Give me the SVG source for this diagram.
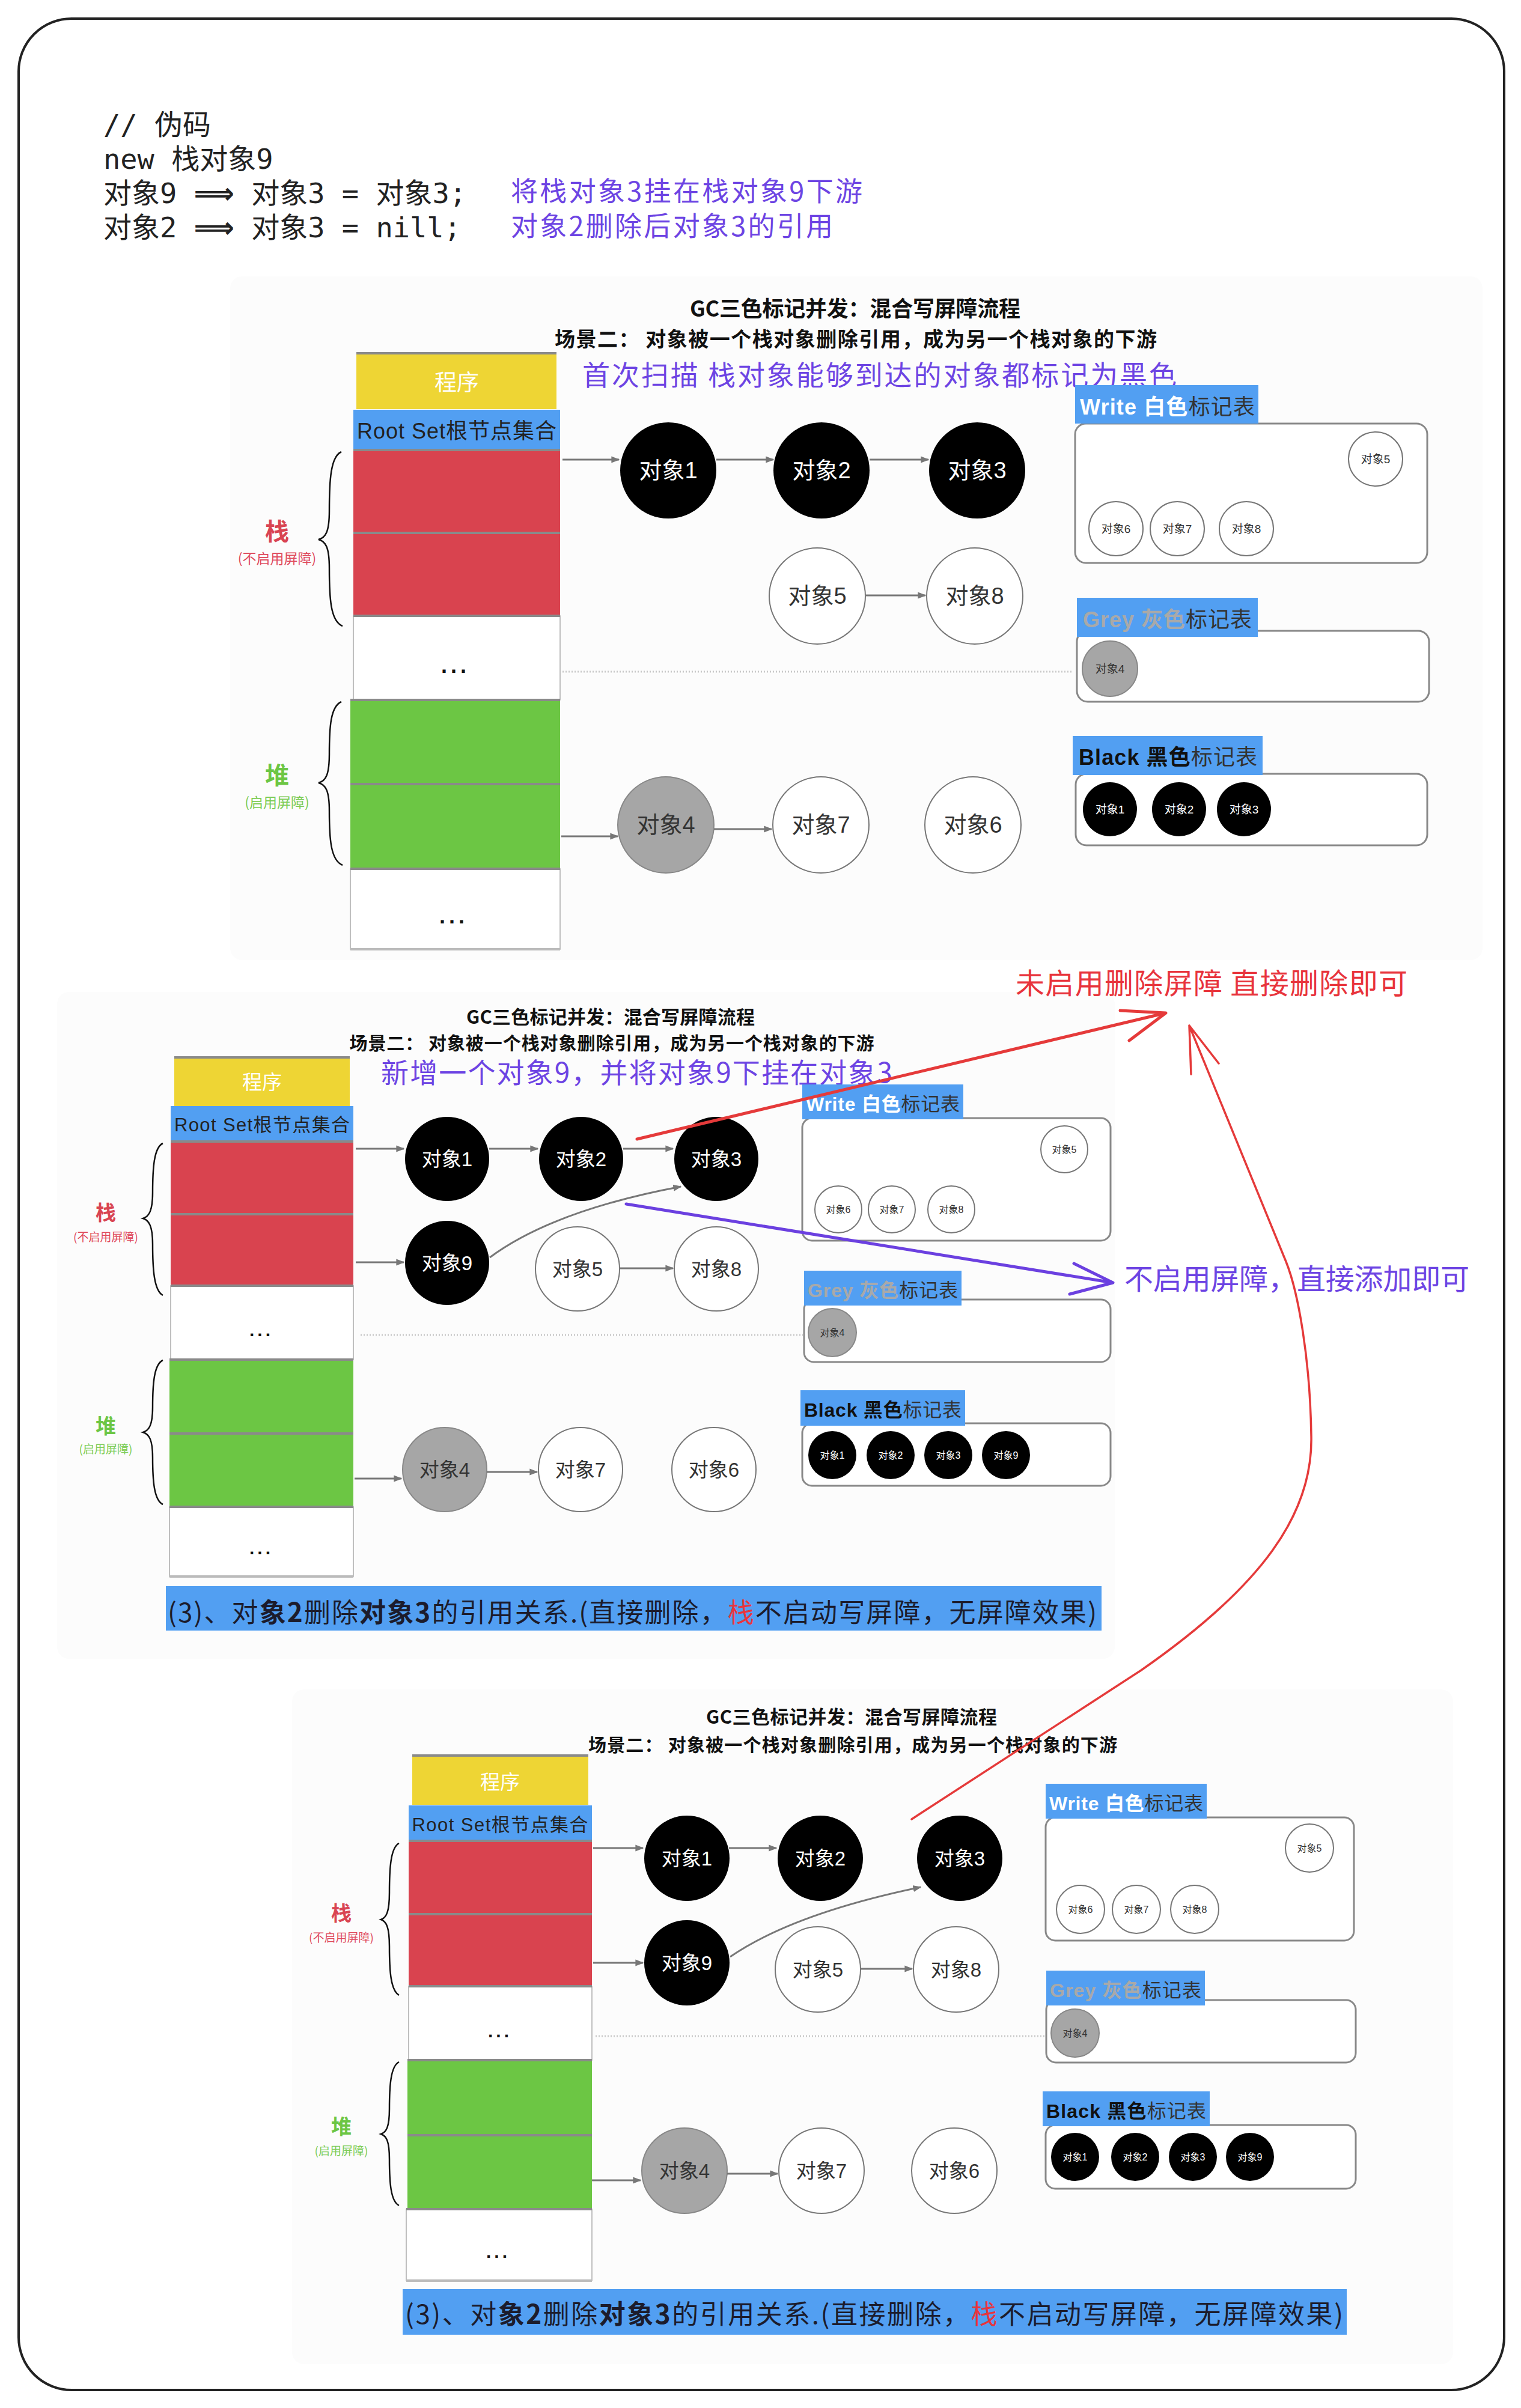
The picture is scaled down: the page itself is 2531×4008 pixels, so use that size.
<svg xmlns="http://www.w3.org/2000/svg" width="2531" height="4008" viewBox="0 0 2531 4008">
<defs>
<style>
.sans{font-family:"Liberation Sans","Noto Sans CJK SC",sans-serif}
.cjk{font-family:"Noto Sans CJK SC",sans-serif}
.mono{font-family:"DejaVu Sans Mono","Noto Sans CJK SC",monospace;font-size:47px;fill:#222}
.arr{font-family:"DejaVu Sans","Noto Sans CJK SC",sans-serif;font-weight:bold}
.purple{fill:#6d44e3}
.sep{stroke:#8a8a8a;stroke-width:4}
.red{fill:#d9434f}
.green{fill:#6cc644}
.yellow{fill:#eed534}
.blue{fill:#529ff2}
.white{fill:#fff;stroke:#aaa;stroke-width:1.5}
.ob{fill:#000}
.ow{fill:#fff;stroke:#777;stroke-width:2}
.og{fill:#a6a6a6;stroke:#888;stroke-width:2}
.tw{fill:#fff;text-anchor:middle}
.td{fill:#333;text-anchor:middle}
.tbox{fill:#fff;stroke:#888;stroke-width:3}
.edge{stroke:#777;stroke-width:3;fill:none;marker-end:url(#ah)}
.dot{stroke:#c8c8c8;stroke-width:3;stroke-dasharray:2 3;fill:none}
.brace{stroke:#111;stroke-width:2.5;fill:none}
.ann{fill:none;stroke-linecap:round;stroke-linejoin:round}
.title{font-weight:bold;fill:#111;text-anchor:middle}
</style>
<marker id="ah" viewBox="0 0 10 10" refX="9" refY="5" markerWidth="14" markerHeight="14" markerUnits="userSpaceOnUse" orient="auto"><path d="M0,1 L10,5 L0,9 z" fill="#777"/></marker>
</defs>
<rect width="2531" height="4008" fill="#fff"/>
<rect id="frame" x="31" y="31" width="2472" height="3947" rx="88" ry="88" fill="#fff" stroke="#222" stroke-width="4"/>

<!-- faint panel backgrounds -->
<rect x="383" y="460" width="2084" height="1138" rx="20" fill="#fcfcfc"/>
<rect x="95" y="1651" width="1760" height="1110" rx="20" fill="#fcfcfc"/>
<rect x="486" y="2812" width="1932" height="1123" rx="20" fill="#fcfcfc"/>

<!-- code -->
<g id="code">
<text class="mono" x="172" y="224">//  伪码</text>
<text class="mono" x="172" y="281">new 栈对象9</text>
<text class="mono" x="172" y="338">对象9 <tspan class="arr">⟹</tspan> 对象3 = 对象3;</text>
<text class="mono" x="172" y="395">对象2 <tspan class="arr">⟹</tspan> 对象3 = nill;</text>
<text class="cjk purple" x="850" y="335" font-size="45" textLength="585">将栈对象3挂在栈对象9下游</text>
<text class="cjk purple" x="850" y="393" font-size="45" textLength="536">对象2删除后对象3的引用</text>
</g>

<!-- ================= PANEL 1 ================= -->
<g id="p1-title">
<text class="cjk title" x="1423" y="527" font-size="36" textLength="550">GC三色标记并发：混合写屏障流程</text>
<text class="cjk title" x="1424" y="577" font-size="34" textLength="1002">场景二： 对象被一个栈对象删除引用，成为另一个栈对象的下游</text>
</g>
<text id="p1-note" class="cjk purple" x="969" y="641" font-size="46" textLength="989">首次扫描  栈对象能够到达的对象都标记为黑色</text>

<g id="p1-program"><rect class="yellow" x="593" y="587" width="333" height="94"/><line class="sep" x1="593" y1="588" x2="926" y2="588"/><text class="cjk tw" x="760" y="650" font-size="37">程序</text></g>
<g id="p1-rootset"><rect class="blue" x="588" y="682" width="344" height="66"/><text class="sans td" x="760" y="730" font-size="36" textLength="332" style="fill:#222">Root Set根节点集合</text></g>
<g id="p1-stack1"><rect class="red" x="588" y="749" width="344" height="138"/></g>
<g id="p1-stack2"><rect class="red" x="588" y="887" width="344" height="138"/></g>
<g id="p1-stack3"><rect class="white" x="588" y="1025" width="344" height="140"/><text class="sans td" x="758" y="1120" font-size="36" font-weight="bold" letter-spacing="6" style="fill:#111">...</text></g>
<g id="p1-heap1"><rect class="green" x="583" y="1165" width="349" height="140"/></g>
<g id="p1-heap2"><rect class="green" x="583" y="1305" width="349" height="141"/></g>
<g id="p1-heap3"><rect class="white" x="583" y="1446" width="349" height="134"/><text class="sans td" x="755" y="1537" font-size="36" font-weight="bold" letter-spacing="6" style="fill:#111">...</text></g>
<g id="p1-seps"><line class="sep" x1="588" y1="749" x2="932" y2="749"/><line class="sep" x1="588" y1="887" x2="932" y2="887"/><line class="sep" x1="588" y1="1025" x2="932" y2="1025"/><line class="sep" x1="583" y1="1165" x2="932" y2="1165"/><line class="sep" x1="583" y1="1305" x2="932" y2="1305"/><line class="sep" x1="583" y1="1446" x2="932" y2="1446"/><line class="sep" x1="583" y1="1580" x2="932" y2="1580" style="stroke:#bbb"/></g>
<g id="p1-stack-label">
<path class="brace" d="M568,752 C550,760 548,800 548,850 C548,885 542,895 530,898 C542,901 548,911 548,946 C548,996 550,1034 570,1042"/>
<text class="cjk" x="461" y="899" font-size="40" font-weight="bold" fill="#d94452" text-anchor="middle">栈</text>
<text class="cjk" x="461" y="938" font-size="23" fill="#df4a5c" text-anchor="middle">(不启用屏障)</text>
</g>
<g id="p1-heap-label">
<path class="brace" d="M568,1168 C550,1176 548,1210 548,1255 C548,1290 542,1300 530,1303 C542,1306 548,1316 548,1350 C548,1395 550,1432 570,1440"/>
<text class="cjk" x="461" y="1305" font-size="40" font-weight="bold" fill="#6cc644" text-anchor="middle">堆</text>
<text class="cjk" x="461" y="1344" font-size="23" fill="#7ccc55" text-anchor="middle">(启用屏障)</text>
</g>

<g id="p1-obj1"><circle class="ob" cx="1112" cy="783" r="80"/><text class="sans tw" x="1112" y="796" font-size="38">对象1</text></g>
<g id="p1-obj2"><circle class="ob" cx="1367" cy="783" r="80"/><text class="sans tw" x="1367" y="796" font-size="38">对象2</text></g>
<g id="p1-obj3"><circle class="ob" cx="1626" cy="783" r="80"/><text class="sans tw" x="1626" y="796" font-size="38">对象3</text></g>
<g id="p1-obj5"><circle class="ow" cx="1360" cy="992" r="80"/><text class="sans td" x="1360" y="1005" font-size="38">对象5</text></g>
<g id="p1-obj8"><circle class="ow" cx="1622" cy="992" r="80"/><text class="sans td" x="1622" y="1005" font-size="38">对象8</text></g>
<g id="p1-obj4"><circle class="og" cx="1108" cy="1373" r="80"/><text class="sans td" x="1108" y="1386" font-size="38">对象4</text></g>
<g id="p1-obj7"><circle class="ow" cx="1366" cy="1373" r="80"/><text class="sans td" x="1366" y="1386" font-size="38">对象7</text></g>
<g id="p1-obj6"><circle class="ow" cx="1619" cy="1373" r="80"/><text class="sans td" x="1619" y="1386" font-size="38">对象6</text></g>

<g id="p1-white-table">
<rect class="tbox" x="1789" y="705" width="586" height="232" rx="18"/>
<rect class="blue" x="1789" y="641" width="305" height="64"/>
<text class="sans" x="1797" y="690" font-size="36" textLength="291" font-weight="bold"><tspan fill="#fff">Write 白色</tspan><tspan fill="#333" font-weight="normal">标记表</tspan></text>
<circle class="ow" cx="2289" cy="764" r="45"/><text class="sans td" x="2289" y="771" font-size="19">对象5</text>
<circle class="ow" cx="1857" cy="880" r="45"/><text class="sans td" x="1857" y="887" font-size="19">对象6</text>
<circle class="ow" cx="1959" cy="880" r="45"/><text class="sans td" x="1959" y="887" font-size="19">对象7</text>
<circle class="ow" cx="2074" cy="880" r="45"/><text class="sans td" x="2074" y="887" font-size="19">对象8</text>
</g>
<g id="p1-grey-table">
<rect class="tbox" x="1792" y="1050" width="586" height="118" rx="18"/>
<rect class="blue" x="1792" y="995" width="301" height="65"/>
<text class="sans" x="1802" y="1044" font-size="36" textLength="281"><tspan fill="#a9a9a9" font-weight="bold">Grey 灰色</tspan><tspan fill="#333">标记表</tspan></text>
<circle class="og" cx="1847" cy="1113" r="46"/><text class="sans td" x="1847" y="1120" font-size="19">对象4</text>
</g>
<g id="p1-black-table">
<rect class="tbox" x="1790" y="1288" width="585" height="119" rx="18"/>
<rect class="blue" x="1785" y="1225" width="316" height="65"/>
<text class="sans" x="1795" y="1273" font-size="36" textLength="297"><tspan fill="#111" font-weight="bold">Black 黑色</tspan><tspan fill="#333">标记表</tspan></text>
<circle class="ob" cx="1847" cy="1347" r="45"/><text class="sans tw" x="1847" y="1354" font-size="19">对象1</text>
<circle class="ob" cx="1962" cy="1347" r="45"/><text class="sans tw" x="1962" y="1354" font-size="19">对象2</text>
<circle class="ob" cx="2070" cy="1347" r="45"/><text class="sans tw" x="2070" y="1354" font-size="19">对象3</text>
</g>

<!-- ================= PANEL 2 ================= -->
<g id="p2-title">
<text class="cjk title" x="1016" y="1704" font-size="31" textLength="480">GC三色标记并发：混合写屏障流程</text>
<text class="cjk title" x="1018" y="1747" font-size="30" textLength="873">场景二： 对象被一个栈对象删除引用，成为另一个栈对象的下游</text>
</g>
<text id="p2-note" class="cjk purple" x="634" y="1802" font-size="46" textLength="851">新增一个对象9，并将对象9下挂在对象3</text>

<g id="p2-program"><rect class="yellow" x="290" y="1759" width="292" height="82"/><line class="sep" x1="290" y1="1760" x2="582" y2="1760"/><text class="cjk tw" x="436" y="1813" font-size="33">程序</text></g>
<g id="p2-rootset"><rect class="blue" x="284" y="1841" width="304" height="59"/><text class="sans td" x="436" y="1883" font-size="31" textLength="292" style="fill:#222">Root Set根节点集合</text></g>
<g id="p2-stack1"><rect class="red" x="284" y="1900" width="304" height="121"/></g>
<g id="p2-stack2"><rect class="red" x="284" y="2021" width="304" height="119"/></g>
<g id="p2-stack3"><rect class="white" x="284" y="2140" width="304" height="123"/><text class="sans td" x="435" y="2224" font-size="30" font-weight="bold" letter-spacing="5" style="fill:#111">...</text></g>
<g id="p2-heap1"><rect class="green" x="282" y="2263" width="306" height="123"/></g>
<g id="p2-heap2"><rect class="green" x="282" y="2386" width="306" height="122"/></g>
<g id="p2-heap3"><rect class="white" x="282" y="2508" width="306" height="116"/><text class="sans td" x="435" y="2587" font-size="30" font-weight="bold" letter-spacing="5" style="fill:#111">...</text></g>
<g id="p2-seps"><line class="sep" x1="284" y1="1900" x2="588" y2="1900"/><line class="sep" x1="284" y1="2021" x2="588" y2="2021"/><line class="sep" x1="284" y1="2140" x2="588" y2="2140"/><line class="sep" x1="282" y1="2263" x2="588" y2="2263"/><line class="sep" x1="282" y1="2386" x2="588" y2="2386"/><line class="sep" x1="282" y1="2508" x2="588" y2="2508"/><line class="sep" x1="282" y1="2624" x2="588" y2="2624" style="stroke:#bbb"/></g>
<g id="p2-stack-label">
<path class="brace" d="M271,1903 C256,1910 254,1945 254,1985 C254,2015 248,2025 238,2028 C248,2031 254,2041 254,2071 C254,2111 256,2148 271,2156"/>
<text class="cjk" x="176" y="2031" font-size="34" font-weight="bold" fill="#d94452" text-anchor="middle">栈</text>
<text class="cjk" x="176" y="2066" font-size="19" fill="#df4a5c" text-anchor="middle">(不启用屏障)</text>
</g>
<g id="p2-heap-label">
<path class="brace" d="M271,2264 C256,2271 254,2305 254,2342 C254,2372 248,2381 238,2384 C248,2387 254,2396 254,2426 C254,2463 256,2497 271,2504"/>
<text class="cjk" x="176" y="2386" font-size="34" font-weight="bold" fill="#6cc644" text-anchor="middle">堆</text>
<text class="cjk" x="176" y="2419" font-size="19" fill="#7ccc55" text-anchor="middle">(启用屏障)</text>
</g>

<g id="p2-obj1"><circle class="ob" cx="744" cy="1929" r="70"/><text class="sans tw" x="744" y="1941" font-size="33">对象1</text></g>
<g id="p2-obj2"><circle class="ob" cx="967" cy="1929" r="70"/><text class="sans tw" x="967" y="1941" font-size="33">对象2</text></g>
<g id="p2-obj3"><circle class="ob" cx="1192" cy="1929" r="70"/><text class="sans tw" x="1192" y="1941" font-size="33">对象3</text></g>
<g id="p2-obj9"><circle class="ob" cx="744" cy="2102" r="70"/><text class="sans tw" x="744" y="2114" font-size="33">对象9</text></g>
<g id="p2-obj5"><circle class="ow" cx="961" cy="2112" r="70"/><text class="sans td" x="961" y="2124" font-size="33">对象5</text></g>
<g id="p2-obj8"><circle class="ow" cx="1192" cy="2112" r="70"/><text class="sans td" x="1192" y="2124" font-size="33">对象8</text></g>
<g id="p2-obj4"><circle class="og" cx="740" cy="2446" r="70"/><text class="sans td" x="740" y="2458" font-size="33">对象4</text></g>
<g id="p2-obj7"><circle class="ow" cx="966" cy="2446" r="70"/><text class="sans td" x="966" y="2458" font-size="33">对象7</text></g>
<g id="p2-obj6"><circle class="ow" cx="1188" cy="2446" r="70"/><text class="sans td" x="1188" y="2458" font-size="33">对象6</text></g>

<g id="p2-white-table">
<rect class="tbox" x="1335" y="1861" width="513" height="204" rx="16"/>
<rect class="blue" x="1335" y="1805" width="268" height="58"/>
<text class="sans" x="1341" y="1849" font-size="32" textLength="256" font-weight="bold"><tspan fill="#fff">Write 白色</tspan><tspan fill="#333" font-weight="normal">标记表</tspan></text>
<circle class="ow" cx="1771" cy="1913" r="39"/><text class="sans td" x="1771" y="1919" font-size="16">对象5</text>
<circle class="ow" cx="1395" cy="2013" r="39"/><text class="sans td" x="1395" y="2019" font-size="16">对象6</text>
<circle class="ow" cx="1484" cy="2013" r="39"/><text class="sans td" x="1484" y="2019" font-size="16">对象7</text>
<circle class="ow" cx="1583" cy="2013" r="39"/><text class="sans td" x="1583" y="2019" font-size="16">对象8</text>
</g>
<g id="p2-grey-table">
<rect class="tbox" x="1338" y="2163" width="510" height="104" rx="16"/>
<rect class="blue" x="1338" y="2115" width="262" height="58"/>
<text class="sans" x="1344" y="2159" font-size="32" textLength="250"><tspan fill="#a9a9a9" font-weight="bold">Grey 灰色</tspan><tspan fill="#333">标记表</tspan></text>
<circle class="og" cx="1385" cy="2218" r="40"/><text class="sans td" x="1385" y="2224" font-size="16">对象4</text>
</g>
<g id="p2-black-table">
<rect class="tbox" x="1335" y="2369" width="513" height="104" rx="16"/>
<rect class="blue" x="1332" y="2314" width="274" height="59"/>
<text class="sans" x="1338" y="2358" font-size="32" textLength="262"><tspan fill="#111" font-weight="bold">Black 黑色</tspan><tspan fill="#333">标记表</tspan></text>
<circle class="ob" cx="1385" cy="2422" r="40"/><text class="sans tw" x="1385" y="2428" font-size="16">对象1</text>
<circle class="ob" cx="1482" cy="2422" r="40"/><text class="sans tw" x="1482" y="2428" font-size="16">对象2</text>
<circle class="ob" cx="1578" cy="2422" r="40"/><text class="sans tw" x="1578" y="2428" font-size="16">对象3</text>
<circle class="ob" cx="1674" cy="2422" r="40"/><text class="sans tw" x="1674" y="2428" font-size="16">对象9</text>
</g>
<g id="p2-banner">
<rect x="276" y="2640" width="1557" height="74" fill="#529ff2"/>
<text class="cjk" x="279" y="2700" font-size="44" textLength="1546" fill="#1c1c2c">(3)、对<tspan font-weight="bold">象2</tspan>删除<tspan font-weight="bold">对象3</tspan>的引用关系.(直接删除，<tspan fill="#e8343c">栈</tspan>不启动写屏障，无屏障效果)</text>
</g>

<!-- ================= PANEL 3 ================= -->
<g id="p3-title">
<text class="cjk title" x="1417" y="2869" font-size="31" textLength="484">GC三色标记并发：混合写屏障流程</text>
<text class="cjk title" x="1419" y="2915" font-size="30" textLength="880">场景二： 对象被一个栈对象删除引用，成为另一个栈对象的下游</text>
</g>
<g id="p3-program"><rect class="yellow" x="686" y="2921" width="293" height="83"/><line class="sep" x1="686" y1="2922" x2="979" y2="2922"/><text class="cjk tw" x="832" y="2978" font-size="33">程序</text></g>
<g id="p3-rootset"><rect class="blue" x="680" y="3005" width="305" height="59"/><text class="sans td" x="832" y="3048" font-size="31" textLength="293" style="fill:#222">Root Set根节点集合</text></g>
<g id="p3-stack1"><rect class="red" x="680" y="3064" width="305" height="122"/></g>
<g id="p3-stack2"><rect class="red" x="680" y="3186" width="305" height="120"/></g>
<g id="p3-stack3"><rect class="white" x="680" y="3306" width="305" height="123"/><text class="sans td" x="832" y="3391" font-size="30" font-weight="bold" letter-spacing="5" style="fill:#111">...</text></g>
<g id="p3-heap1"><rect class="green" x="678" y="3429" width="307" height="125"/></g>
<g id="p3-heap2"><rect class="green" x="678" y="3554" width="307" height="123"/></g>
<g id="p3-heap3"><rect class="white" x="676" y="3677" width="309" height="119"/><text class="sans td" x="829" y="3758" font-size="30" font-weight="bold" letter-spacing="5" style="fill:#111">...</text></g>
<g id="p3-seps"><line class="sep" x1="680" y1="3064" x2="985" y2="3064"/><line class="sep" x1="680" y1="3186" x2="985" y2="3186"/><line class="sep" x1="680" y1="3306" x2="985" y2="3306"/><line class="sep" x1="678" y1="3429" x2="985" y2="3429"/><line class="sep" x1="678" y1="3554" x2="985" y2="3554"/><line class="sep" x1="676" y1="3677" x2="985" y2="3677"/><line class="sep" x1="676" y1="3796" x2="985" y2="3796" style="stroke:#bbb"/></g>
<g id="p3-stack-label">
<path class="brace" d="M664,3068 C650,3075 648,3110 648,3150 C648,3182 643,3192 634,3195 C643,3198 648,3208 648,3240 C648,3280 650,3313 664,3321"/>
<text class="cjk" x="568" y="3197" font-size="34" font-weight="bold" fill="#d94452" text-anchor="middle">栈</text>
<text class="cjk" x="568" y="3232" font-size="19" fill="#df4a5c" text-anchor="middle">(不启用屏障)</text>
</g>
<g id="p3-heap-label">
<path class="brace" d="M664,3432 C650,3439 648,3472 648,3510 C648,3540 643,3549 634,3552 C643,3555 648,3564 648,3594 C648,3632 650,3664 664,3671"/>
<text class="cjk" x="568" y="3552" font-size="34" font-weight="bold" fill="#6cc644" text-anchor="middle">堆</text>
<text class="cjk" x="568" y="3587" font-size="19" fill="#7ccc55" text-anchor="middle">(启用屏障)</text>
</g>

<g id="p3-obj1"><circle class="ob" cx="1143" cy="3093" r="71"/><text class="sans tw" x="1143" y="3105" font-size="33">对象1</text></g>
<g id="p3-obj2"><circle class="ob" cx="1365" cy="3093" r="71"/><text class="sans tw" x="1365" y="3105" font-size="33">对象2</text></g>
<g id="p3-obj3"><circle class="ob" cx="1597" cy="3093" r="71"/><text class="sans tw" x="1597" y="3105" font-size="33">对象3</text></g>
<g id="p3-obj9"><circle class="ob" cx="1143" cy="3267" r="71"/><text class="sans tw" x="1143" y="3279" font-size="33">对象9</text></g>
<g id="p3-obj5"><circle class="ow" cx="1361" cy="3278" r="71"/><text class="sans td" x="1361" y="3290" font-size="33">对象5</text></g>
<g id="p3-obj8"><circle class="ow" cx="1591" cy="3278" r="71"/><text class="sans td" x="1591" y="3290" font-size="33">对象8</text></g>
<g id="p3-obj4"><circle class="og" cx="1139" cy="3613" r="71"/><text class="sans td" x="1139" y="3625" font-size="33">对象4</text></g>
<g id="p3-obj7"><circle class="ow" cx="1367" cy="3613" r="71"/><text class="sans td" x="1367" y="3625" font-size="33">对象7</text></g>
<g id="p3-obj6"><circle class="ow" cx="1588" cy="3613" r="71"/><text class="sans td" x="1588" y="3625" font-size="33">对象6</text></g>

<g id="p3-white-table">
<rect class="tbox" x="1740" y="3025" width="513" height="205" rx="16"/>
<rect class="blue" x="1740" y="2969" width="268" height="58"/>
<text class="sans" x="1746" y="3013" font-size="32" textLength="256" font-weight="bold"><tspan fill="#fff">Write 白色</tspan><tspan fill="#333" font-weight="normal">标记表</tspan></text>
<circle class="ow" cx="2179" cy="3076" r="40"/><text class="sans td" x="2179" y="3082" font-size="16">对象5</text>
<circle class="ow" cx="1798" cy="3178" r="40"/><text class="sans td" x="1798" y="3184" font-size="16">对象6</text>
<circle class="ow" cx="1891" cy="3178" r="40"/><text class="sans td" x="1891" y="3184" font-size="16">对象7</text>
<circle class="ow" cx="1988" cy="3178" r="40"/><text class="sans td" x="1988" y="3184" font-size="16">对象8</text>
</g>
<g id="p3-grey-table">
<rect class="tbox" x="1741" y="3329" width="515" height="104" rx="16"/>
<rect class="blue" x="1741" y="3280" width="264" height="58"/>
<text class="sans" x="1747" y="3324" font-size="32" textLength="252"><tspan fill="#a9a9a9" font-weight="bold">Grey 灰色</tspan><tspan fill="#333">标记表</tspan></text>
<circle class="og" cx="1789" cy="3384" r="40"/><text class="sans td" x="1789" y="3390" font-size="16">对象4</text>
</g>
<g id="p3-black-table">
<rect class="tbox" x="1740" y="3537" width="516" height="106" rx="16"/>
<rect class="blue" x="1735" y="3481" width="278" height="58"/>
<text class="sans" x="1741" y="3525" font-size="32" textLength="266"><tspan fill="#111" font-weight="bold">Black 黑色</tspan><tspan fill="#333">标记表</tspan></text>
<circle class="ob" cx="1789" cy="3590" r="40"/><text class="sans tw" x="1789" y="3596" font-size="16">对象1</text>
<circle class="ob" cx="1889" cy="3590" r="40"/><text class="sans tw" x="1889" y="3596" font-size="16">对象2</text>
<circle class="ob" cx="1985" cy="3590" r="40"/><text class="sans tw" x="1985" y="3596" font-size="16">对象3</text>
<circle class="ob" cx="2080" cy="3590" r="40"/><text class="sans tw" x="2080" y="3596" font-size="16">对象9</text>
</g>
<g id="p3-banner">
<rect x="670" y="3810" width="1571" height="76" fill="#529ff2"/>
<text class="cjk" x="674" y="3868" font-size="44" textLength="1561" fill="#1c1c2c">(3)、对<tspan font-weight="bold">象2</tspan>删除<tspan font-weight="bold">对象3</tspan>的引用关系.(直接删除，<tspan fill="#e8343c">栈</tspan>不启动写屏障，无屏障效果)</text>
</g>

<!-- ================= CONNECTORS ================= -->
<g id="connectors">
<path class="edge" d="M936,765 L1030,765"/>
<path class="edge" d="M1192,765 L1287,765"/>
<path class="edge" d="M1447,765 L1545,765"/>
<path class="edge" d="M1440,991 L1540,991"/>
<path class="edge" d="M934,1392 L1028,1392"/>
<path class="edge" d="M1188,1380 L1284,1380"/>
<path class="dot" d="M936,1118 L1786,1118"/>

<path class="edge" d="M592,1912 L672,1912"/>
<path class="edge" d="M814,1912 L895,1912"/>
<path class="edge" d="M1037,1912 L1120,1912"/>
<path class="edge" d="M592,2101 L672,2101"/>
<path class="edge" d="M1031,2111 L1120,2111"/>
<path class="edge" d="M590,2461 L668,2461"/>
<path class="edge" d="M810,2450 L894,2450"/>
<path class="edge" d="M815,2093 Q920,2015 1133,1975"/>
<path class="dot" d="M600,2222 L1336,2222"/>

<path class="edge" d="M987,3076 L1070,3076"/>
<path class="edge" d="M1213,3076 L1292,3076"/>
<path class="edge" d="M987,3267 L1070,3267"/>
<path class="edge" d="M1432,3277 L1518,3277"/>
<path class="edge" d="M985,3629 L1066,3629"/>
<path class="edge" d="M1210,3618 L1294,3618"/>
<path class="edge" d="M1215,3257 Q1320,3185 1532,3141"/>
<path class="dot" d="M991,3389 L1740,3389"/>
</g>

<!-- ================= ANNOTATIONS ================= -->
<g id="annotations">
<text class="cjk" x="1690" y="1654" font-size="48" textLength="652" fill="#e8343c">未启用删除屏障  直接删除即可</text>
<text class="cjk purple" x="1871" y="2146" font-size="48" textLength="574">不启用屏障，直接添加即可</text>
<path class="ann" d="M1060,1896 L1940,1686 M1864,1682 L1940,1686 L1879,1732" stroke="#e53a3a" stroke-width="5"/>
<path class="ann" d="M1042,2004 L1852,2135 M1787,2103 L1852,2135 L1780,2154" stroke="#6b40e0" stroke-width="5"/>
<path class="ann" d="M1517,3028 L1899,2780 C2100,2640 2185,2520 2182,2390 C2180,2260 2160,2150 2140,2100 L1979,1707 M2028,1770 L1979,1707 L1982,1788" stroke="#e53a3a" stroke-width="3.5"/>
</g>
</svg>
